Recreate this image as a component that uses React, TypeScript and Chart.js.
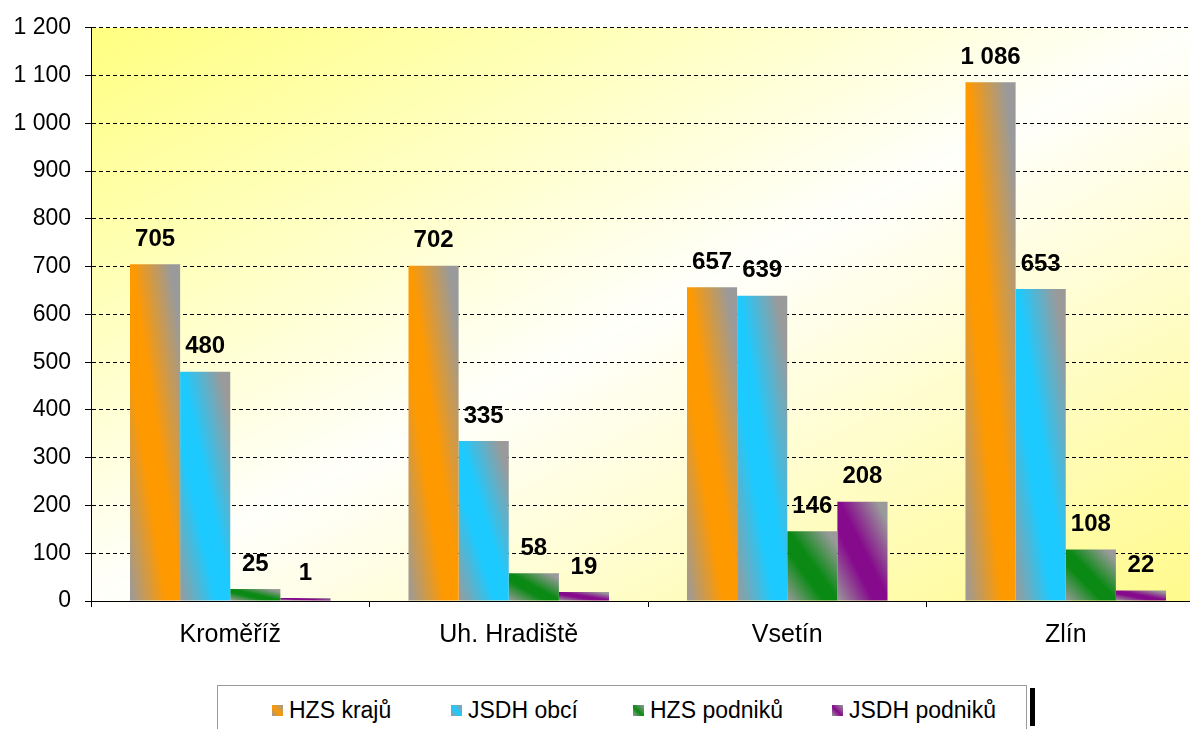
import React, { useEffect, useRef } from "react";
import { Chart, registerables } from "chart.js";

Chart.register(...registerables);

const categories = ["Kroměříž", "Uh. Hradiště", "Vsetín", "Zlín"];
const seriesNames = ["HZS krajů", "JSDH obcí", "HZS podniků", "JSDH podniků"];
const hzsKraju = [705, 702, 657, 1086];
const jsdhObci = [480, 335, 639, 653];
const hzsPodniku = [25, 58, 146, 108];
const jsdhPodniku = [1, 19, 208, 22];
const seriesColors = ["#ff9900", "#1ccaff", "#0a8a14", "#860a8c"];
const yMin = 0;
const yMax = 1200;
const yStep = 100;

const GRAY = "#9a9a9a";
const FONT = '"Liberation Sans", Arial, sans-serif';
const CAT_PCT = 0.72;

const fmt = (v: number) =>
  String(Math.round(v)).replace(/\B(?=(\d{3})+(?!\d))/g, " ");

function barGradient(ctx: CanvasRenderingContext2D, l: number, t: number, r: number, b: number, color: string) {
  if (![l, t, r, b].every((n) => Number.isFinite(n))) return color;
  const w = Math.max(r - l, 1);
  const h = Math.max(b - t, 1);
  const cx = (l + r) / 2;
  const cy = (t + b) / 2;
  const vx = h;
  const vy = -w;
  const k = (w * h) / (vx * vx + vy * vy);
  const g = ctx.createLinearGradient(cx - k * vx, cy - k * vy, cx + k * vx, cy + k * vy);
  g.addColorStop(0, GRAY);
  g.addColorStop(0.36, color);
  g.addColorStop(0.52, color);
  g.addColorStop(0.9, GRAY);
  g.addColorStop(1, GRAY);
  return g;
}

const bgPlugin = {
  id: "plotBg",
  beforeDraw(chart: any) {
    const { ctx, chartArea: a } = chart;
    if (!a) return;
    const w = a.right - a.left;
    const h = a.bottom - a.top;
    const cx = (a.left + a.right) / 2;
    const cy = (a.top + a.bottom) / 2;
    const vx = h;
    const vy = w;
    const k = (w * h) / (vx * vx + vy * vy);
    const g = ctx.createLinearGradient(cx - k * vx, cy - k * vy, cx + k * vx, cy + k * vy);
    g.addColorStop(0, "#ffff80");
    g.addColorStop(0.5, "#fffffb");
    g.addColorStop(1, "#fffa8a");
    ctx.save();
    ctx.fillStyle = g;
    ctx.fillRect(a.left, a.top, w, h);
    ctx.restore();
  },
};

const barFillPlugin = {
  id: "barFill",
  beforeDatasetsDraw(chart: any) {
    const { ctx } = chart;
    chart.data.datasets.forEach((_ds: any, di: number) => {
      const meta = chart.getDatasetMeta(di);
      meta.data.forEach((el: any) => {
        const p = el.getProps(["x", "y", "base", "width"], true);
        const l = p.x - p.width / 2;
        const r = p.x + p.width / 2;
        const t = Math.min(p.y, p.base);
        const b = Math.max(p.y, p.base);
        if (el.options && !Object.isFrozen(el.options)) {
          el.options.backgroundColor = barGradient(ctx, l, t, r, b, seriesColors[di]);
        }
      });
    });
  },
};

const labelPlugin = {
  id: "valueLabels",
  afterDatasetsDraw(chart: any) {
    const { ctx } = chart;
    ctx.save();
    ctx.font = `bold 24px ${FONT}`;
    ctx.fillStyle = "#000";
    ctx.textAlign = "center";
    ctx.textBaseline = "middle";
    chart.data.datasets.forEach((ds: any, di: number) => {
      const meta = chart.getDatasetMeta(di);
      meta.data.forEach((el: any, i: number) => {
        ctx.fillText(fmt(ds.data[i]), el.x, el.y - 25);
      });
    });
    ctx.restore();
  },
};

export default function App() {
  const ref = useRef<HTMLCanvasElement | null>(null);

  useEffect(() => {
    if (!ref.current) return;
    Chart.defaults.font.family = FONT;
    const allSeries = [hzsKraju, jsdhObci, hzsPodniku, jsdhPodniku];
    const chart = new Chart(ref.current, {
      type: "bar",
      data: {
        labels: categories,
        datasets: allSeries.map((data, di) => ({
          label: seriesNames[di],
          data,
          minBarLength: 3,
          borderWidth: 0,
          barPercentage: 1,
          categoryPercentage: CAT_PCT,
          backgroundColor: (_c: any) => seriesColors[di],
        })),
      },
      options: {
        responsive: false,
        animation: false,
        devicePixelRatio: 1,
        layout: { padding: { top: 25, left: 0, right: 0, bottom: 0 } },
        plugins: {
          legend: { display: false },
          tooltip: { enabled: false },
        },
        scales: {
          x: {
            afterFit: (s: any) => {
              s.height = 128;
            },
            grid: {
              drawOnChartArea: false,
              drawTicks: true,
              tickLength: 6,
              color: "#000",
              tickColor: "#000",
              offset: true,
            },
            border: { display: true, color: "#000", width: 1 },
            ticks: {
              color: "#000",
              font: { size: 25, family: FONT },
              padding: 13,
              maxRotation: 0,
              autoSkip: false,
            },
          },
          y: {
            min: yMin,
            max: yMax,
            afterFit: (s: any) => {
              s.width = 91;
            },
            grid: {
              color: (c: any) => (c.tick && c.tick.value === 0 ? "rgba(0,0,0,0)" : "#000"),
              tickColor: "#000",
              tickLength: 6,
              lineWidth: 1,
              tickBorderDash: [],
            } as any,
            border: { display: true, color: "#000", width: 1, dash: [4, 3] },
            ticks: {
              stepSize: yStep,
              color: "#000",
              font: { size: 23, family: FONT },
              padding: 14,
              callback: (v: any) => fmt(Number(v)),
            },
          },
        },
      },
      plugins: [bgPlugin, barFillPlugin, labelPlugin],
    });
    return () => chart.destroy();
  }, []);

  const legendLeft = [272, 451, 633, 832];

  return (
    <div
      style={{
        position: "absolute",
        left: 0,
        top: 0,
        width: 1190,
        height: 729,
        overflow: "hidden",
        background: "#fff",
        fontFamily: FONT,
      }}
    >
      <canvas ref={ref} width={1205} height={729} style={{ display: "block" }} />
      <div
        style={{
          position: "absolute",
          left: 217,
          top: 685,
          width: 810,
          height: 70,
          border: "1px solid #9a9a9a",
          background: "#fff",
          boxSizing: "border-box",
        }}
      />
      <div
        style={{
          position: "absolute",
          left: 1030,
          top: 688,
          width: 5,
          height: 38,
          background: "#000",
        }}
      />
      {seriesNames.map((name, i) => (
        <div
          key={name}
          style={{
            position: "absolute",
            left: legendLeft[i],
            top: 696,
            height: 28,
            display: "flex",
            alignItems: "center",
            fontSize: 23,
            color: "#000",
            whiteSpace: "nowrap",
          }}
        >
          <span
            style={{
              display: "inline-block",
              width: 11,
              height: 11,
              marginRight: 6,
              background: `linear-gradient(to top right, ${GRAY}, ${seriesColors[i]} 45%, ${GRAY})`,
            }}
          />
          {name}
        </div>
      ))}
    </div>
  );
}
